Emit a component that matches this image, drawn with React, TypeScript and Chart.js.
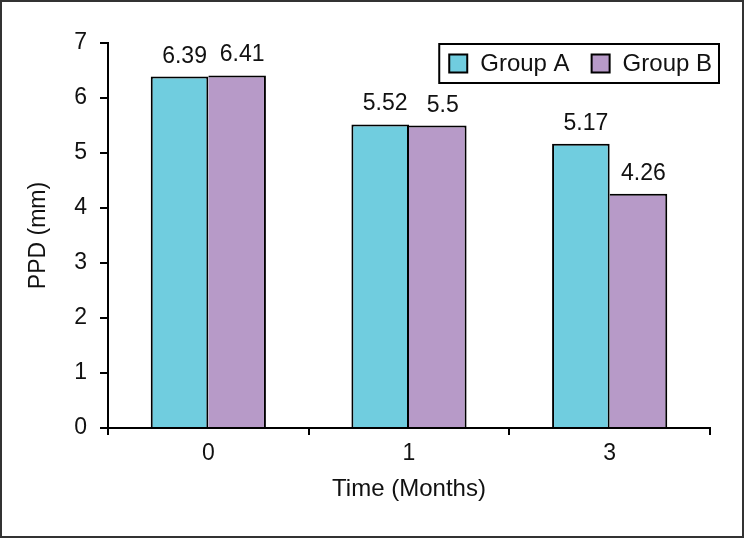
import React, { useEffect, useRef } from "react";
import { Chart, registerables } from "chart.js";

Chart.register(...registerables);

const categories = ["0", "1", "3"];
const seriesNames = ["Group A", "Group B"];
const groupA = [6.39, 5.52, 5.17];
const groupB = [6.41, 5.5, 4.26];
const yTicks = [0, 1, 2, 3, 4, 5, 6, 7];
const colors = ["#70CDDF", "#B79AC8"];

const FONT = "'Liberation Sans', Arial, sans-serif";

const labelPlugin = {
  id: "valueLabels",
  afterDatasetsDraw(chart: any) {
    const ctx = chart.ctx;
    ctx.save();
    ctx.font = `23px ${FONT}`;
    ctx.fillStyle = "#111";
    ctx.textAlign = "center";
    ctx.textBaseline = "alphabetic";
    chart.data.datasets.forEach((ds: any, i: number) => {
      const meta = chart.getDatasetMeta(i);
      meta.data.forEach((bar: any, j: number) => {
        ctx.fillText(String(ds.data[j]), bar.x + 5, bar.y - 14);
      });
    });
    ctx.restore();
  },
};

const legendPlugin = {
  id: "boxLegend",
  afterDraw(chart: any) {
    const ctx = chart.ctx;
    const area = chart.chartArea;
    ctx.save();
    ctx.font = `24px ${FONT}`;
    const widths = chart.data.datasets.map((d: any) => ctx.measureText(d.label).width);
    const sq = 18;
    const padL = 10, gapSq = 13, gapItem = 22, padR = 7;
    const total = padL + widths.reduce((a: number, w: number) => a + sq + gapSq + w, 0) + gapItem + padR;
    const right = area.right + 9;
    const left = right - total;
    const top = area.top + 1;
    const h = 39;
    ctx.lineWidth = 2;
    ctx.strokeStyle = "#000";
    ctx.fillStyle = "#fff";
    ctx.fillRect(left, top, total, h);
    ctx.strokeRect(left, top, total, h);
    let x = left + padL;
    const cy = top + h / 2;
    chart.data.datasets.forEach((d: any, i: number) => {
      ctx.fillStyle = d.backgroundColor;
      ctx.fillRect(x, cy - sq / 2, sq, sq);
      ctx.lineWidth = 2;
      ctx.strokeStyle = "#000";
      ctx.strokeRect(x, cy - sq / 2, sq, sq);
      x += sq + gapSq;
      ctx.fillStyle = "#111";
      ctx.textAlign = "left";
      ctx.textBaseline = "middle";
      ctx.fillText(d.label, x, cy + 1);
      x += widths[i] + gapItem;
    });
    ctx.restore();
  },
};

const framePlugin = {
  id: "frame",
  afterDraw(chart: any) {
    const ctx = chart.ctx;
    ctx.save();
    ctx.strokeStyle = "#333";
    ctx.lineWidth = 2;
    ctx.strokeRect(1, 1, chart.width - 2, chart.height - 2);
    ctx.restore();
  },
};

export default function App() {
  const ref = useRef<HTMLCanvasElement>(null);
  useEffect(() => {
    if (!ref.current) return;
    const chart = new Chart(ref.current, {
      type: "bar",
      data: {
        labels: categories,
        datasets: [
          {
            label: seriesNames[0],
            data: groupA,
            backgroundColor: colors[0],
            borderColor: "#000",
            borderWidth: { top: 2, left: 2, right: 2, bottom: 0 },
            categoryPercentage: 0.574,
            barPercentage: 1,
          },
          {
            label: seriesNames[1],
            data: groupB,
            backgroundColor: colors[1],
            borderColor: "#000",
            borderWidth: { top: 2, left: 0, right: 2, bottom: 0 },
            categoryPercentage: 0.574,
            barPercentage: 1,
          },
        ],
      },
      options: {
        responsive: false,
        animation: false,
        events: [],
        layout: { padding: { top: 43, right: 34, bottom: 0, left: 0 } },
        plugins: {
          legend: { display: false },
          tooltip: { enabled: false },
        },
        scales: {
          x: {
            offset: true,
            grid: {
              offset: true,
              drawOnChartArea: false,
              drawTicks: true,
              tickLength: 7,
              lineWidth: 2,
              color: "#000",
            },
            border: { display: true, color: "#000", width: 2 },
            ticks: { color: "#111", font: { family: FONT, size: 23 }, padding: 5 },
            title: {
              display: true,
              text: "Time (Months)",
              color: "#111",
              font: { family: FONT, size: 24 },
              padding: { top: 0, bottom: 34 },
            },
            afterFit(scale: any) {
              scale.height = 110;
            },
          },
          y: {
            min: 0,
            max: 7,
            afterBuildTicks(scale: any) {
              scale.ticks = yTicks.map((v) => ({ value: v }));
            },
            grid: {
              drawOnChartArea: false,
              drawTicks: true,
              tickLength: 8,
              lineWidth: 2,
              color: "#000",
            },
            border: { display: true, color: "#000", width: 2 },
            ticks: { color: "#111", font: { family: FONT, size: 23 }, padding: 13 },
            title: {
              display: true,
              text: "PPD (mm)",
              color: "#111",
              font: { family: FONT, size: 23 },
              padding: { top: 25, bottom: 0 },
            },
            afterFit(scale: any) {
              scale.width = 108;
            },
          },
        },
      },
      plugins: [labelPlugin, legendPlugin, framePlugin],
    });
    return () => chart.destroy();
  }, []);
  return (
    <div style={{ position: "fixed", left: 0, top: 0, width: 744, height: 538, background: "#fff" }}>
      <canvas ref={ref} width={744} height={538} style={{ width: 744, height: 538, display: "block" }} />
    </div>
  );
}
